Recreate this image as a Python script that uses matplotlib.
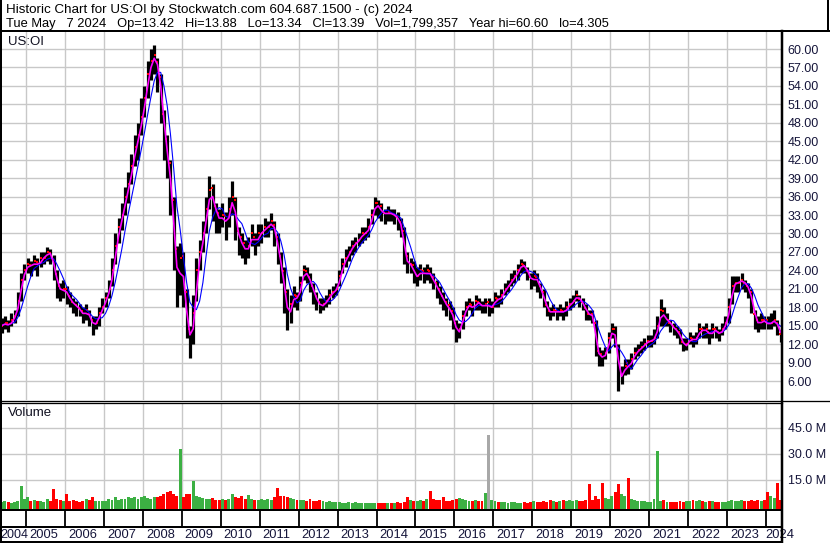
import numpy as np
import pandas as pd
import matplotlib
matplotlib.use("Agg")
import matplotlib.pyplot as plt
from matplotlib.transforms import offset_copy

# ---------------- data (monthly) ----------------
first_month = "2004-05"
last_month = "2024-05"

close = [
    15.0, 15.5, 14.8, 16.0, 16.5, 19.0, 22.5, 24.0,                      # 2004 May-Dec
    25.0, 24.5, 25.5, 24.5, 26.0, 26.0, 27.0, 26.5, 24.0, 21.5, 20.5, 21.0,  # 2005
    20.0, 19.0, 18.5, 18.0, 17.5, 16.5, 17.5, 16.0, 15.0, 15.5, 17.0, 18.0,  # 2006
    19.5, 21.0, 24.0, 28.0, 31.0, 33.0, 36.0, 38.0, 41.0, 44.0, 46.0, 49.0,  # 2007
    52.0, 56.0, 58.0, 59.0, 56.0, 52.0, 45.0, 42.0, 36.0, 28.0, 21.0, 26.0,  # 2008
    20.0, 15.0, 12.0, 17.0, 24.0, 27.0, 30.0, 34.0, 37.0, 35.0, 33.0, 32.0,  # 2009
    33.0, 31.0, 34.0, 36.0, 31.0, 29.0, 28.0, 27.0, 28.0, 30.0, 28.0, 30.0,  # 2010
    30.0, 31.0, 31.0, 32.0, 30.0, 27.0, 24.0, 20.0, 16.0, 18.5, 20.0, 19.0,  # 2011
    22.0, 24.0, 23.0, 22.0, 20.0, 19.0, 18.0, 18.5, 19.0, 20.0, 20.5, 21.0,  # 2012
    23.0, 25.0, 26.0, 27.0, 28.0, 28.5, 29.0, 30.0, 30.0, 31.0, 33.0, 35.0,  # 2013
    34.0, 33.5, 33.0, 33.5, 33.0, 33.0, 32.0, 31.0, 26.0, 25.0, 25.0, 23.0,  # 2014
    23.0, 24.0, 23.0, 24.0, 23.0, 22.0, 21.0, 20.0, 19.0, 18.0, 17.5, 16.0,  # 2015
    13.5, 14.5, 16.5, 18.0, 18.5, 17.5, 19.0, 18.5, 18.0, 18.5, 18.0, 18.0,  # 2016
    19.5, 19.0, 20.0, 21.0, 21.5, 22.5, 23.0, 24.0, 25.0, 24.5, 23.5, 22.0,  # 2017
    23.0, 22.0, 20.5, 19.0, 17.5, 17.0, 17.5, 17.0, 17.5, 17.0, 18.0, 18.5,  # 2018
    19.0, 20.0, 19.0, 18.5, 17.0, 16.8, 16.5, 11.0, 10.0, 9.8, 10.5, 13.0,   # 2019
    14.5, 12.5, 6.5, 7.0, 8.5, 8.2, 9.5, 10.5, 11.0, 11.5, 12.0, 12.5,       # 2020
    12.5, 13.0, 15.0, 17.5, 16.0, 16.0, 15.0, 14.5, 14.0, 13.0, 11.5, 12.0,  # 2021
    13.0, 12.5, 13.0, 14.5, 14.0, 14.5, 13.0, 14.5, 14.0, 13.5, 14.5, 15.5,  # 2022
    18.0, 21.5, 22.0, 22.0, 22.5, 21.5, 21.0, 18.5, 16.0, 15.0, 16.0, 15.5,  # 2023
    15.2, 15.5, 16.0, 14.5, 13.4,                                            # 2024 Jan-May
]
high = [
    16.2, 16.5, 16.0, 17.0, 17.5, 20.5, 23.5, 25.0,
    26.0, 25.5, 26.5, 26.0, 27.0, 27.0, 27.8, 27.5, 26.5, 24.0, 22.0, 22.5,
    21.5, 20.5, 19.5, 19.0, 18.5, 18.0, 18.5, 17.5, 16.5, 16.5, 18.0, 19.5,
    20.5, 22.5, 26.0, 30.0, 32.5, 35.0, 37.5, 40.0, 43.0, 46.0, 48.0, 52.0,
    54.0, 58.0, 60.0, 60.6, 58.5, 56.0, 50.0, 46.0, 42.0, 36.0, 28.0, 28.5,
    27.0, 21.0, 15.0, 20.0, 26.0, 29.0, 32.0, 36.0, 39.3, 38.0, 35.0, 34.0,
    35.0, 33.5, 36.0, 38.5, 36.0, 31.0, 30.0, 29.0, 29.5, 31.5, 30.0, 31.5,
    31.5, 32.5, 32.0, 33.3, 32.0, 30.0, 27.0, 24.5, 21.0, 20.0, 21.5, 20.5,
    23.0, 24.8, 24.5, 23.5, 22.0, 20.5, 19.5, 19.5, 20.0, 21.0, 21.5, 22.0,
    24.0, 26.0, 27.5, 28.0, 29.0, 29.5, 30.0, 31.0, 31.0, 32.5, 34.0, 36.0,
    35.5, 35.0, 34.0, 34.5, 34.0, 34.0, 33.5, 32.5, 31.0, 27.0, 26.0, 25.5,
    24.5, 25.0, 24.5, 25.0, 24.5, 23.5, 22.5, 21.5, 20.5, 19.5, 19.0, 18.0,
    16.0, 15.5, 17.5, 19.0, 19.5, 19.0, 20.0, 19.5, 19.0, 19.5, 19.5, 19.0,
    20.5, 20.0, 21.0, 22.0, 22.5, 23.5, 24.0, 25.0, 25.8, 25.5, 24.5, 23.5,
    24.0, 23.5, 22.0, 21.0, 19.0, 18.0, 18.5, 18.0, 18.5, 18.0, 19.0, 19.5,
    20.0, 20.8, 20.0, 19.5, 18.5, 17.5, 17.5, 16.0, 11.5, 11.0, 11.5, 14.0,
    15.5, 15.0, 12.0, 8.5, 9.5, 9.5, 10.5, 11.5, 12.0, 12.5, 13.0, 13.5,
    13.5, 14.5, 16.5, 19.3, 18.0, 17.0, 16.0, 15.5, 15.0, 14.5, 13.0, 13.0,
    14.0, 13.5, 14.0, 15.5, 15.0, 15.5, 14.5, 15.5, 15.0, 14.5, 15.5, 16.5,
    19.5, 23.0, 23.0, 23.0, 23.6, 22.5, 22.0, 21.0, 17.5, 16.5, 17.0, 16.5,
    16.5, 17.0, 17.5, 16.0, 14.3,
]
low = [
    13.8, 14.5, 14.0, 15.0, 15.5, 16.5, 19.0, 22.5,
    23.5, 23.0, 24.0, 23.0, 24.5, 25.0, 25.5, 25.0, 22.5, 19.5, 19.0, 19.5,
    18.5, 18.0, 17.0, 16.5, 16.5, 15.5, 16.0, 15.0, 13.5, 14.5, 15.0, 17.0,
    18.0, 19.5, 21.5, 25.0, 28.5, 30.5, 33.0, 35.0, 38.0, 41.0, 42.0, 46.0,
    49.0, 52.0, 55.0, 56.0, 53.0, 48.0, 42.0, 39.0, 33.0, 24.0, 18.0, 20.0,
    18.0, 13.0, 9.8, 12.0, 19.0, 24.0, 27.0, 30.0, 34.0, 32.0, 30.0, 30.0,
    31.0, 29.0, 31.0, 33.0, 29.0, 26.5, 26.0, 25.0, 26.0, 28.0, 26.5, 28.0,
    28.5, 29.5, 29.5, 30.5, 28.0, 25.0, 22.0, 17.0, 14.3, 15.5, 18.0, 17.5,
    19.0, 22.5, 22.0, 20.5, 18.5, 17.5, 17.0, 17.5, 18.0, 18.5, 19.5, 20.0,
    21.5, 23.5, 24.5, 25.5, 26.5, 27.0, 28.0, 28.5, 29.0, 29.5, 31.5, 33.0,
    32.5, 32.0, 31.5, 32.0, 32.0, 31.5, 30.5, 29.5, 25.0, 23.5, 23.5, 22.0,
    21.5, 22.5, 22.0, 22.5, 22.0, 21.0, 19.5, 18.5, 17.5, 16.5, 16.0, 14.5,
    12.3, 13.0, 14.5, 16.5, 17.5, 16.5, 17.5, 17.5, 17.0, 17.0, 16.5, 17.0,
    18.0, 18.0, 18.5, 20.0, 20.5, 21.5, 22.0, 22.5, 23.5, 23.5, 22.5, 21.0,
    21.5, 20.5, 19.5, 18.0, 16.5, 16.0, 16.5, 16.0, 16.5, 16.0, 16.5, 17.5,
    18.0, 19.0, 18.0, 17.5, 16.0, 16.0, 15.5, 10.0, 8.5, 8.5, 9.5, 10.5,
    13.0, 11.5, 4.3, 5.5, 7.0, 7.2, 8.0, 9.5, 10.0, 10.5, 11.0, 11.5,
    11.5, 12.0, 13.0, 15.0, 15.0, 15.0, 14.0, 13.5, 13.0, 12.0, 10.8, 11.0,
    12.0, 11.5, 12.0, 13.0, 13.0, 13.0, 12.0, 13.0, 13.0, 12.5, 13.5, 14.5,
    15.5, 18.5, 20.5, 20.5, 21.0, 20.5, 19.5, 17.0, 14.5, 14.0, 14.5, 14.5,
    14.5, 14.5, 15.0, 13.5, 12.4,
]
volume_m = [
    2.5, 3.0, 2.5, 2.0, 2.5, 3.0, 11.5, 4.0,
    5.0, 3.0, 3.5, 3.0, 3.0, 2.5, 4.0, 3.0, 9.8, 4.0, 3.5, 3.0,
    6.9, 3.0, 3.5, 3.0, 2.5, 3.0, 4.0, 3.5, 5.0, 3.0, 3.0, 3.0,
    3.0, 4.0, 3.5, 5.0, 3.5, 4.0, 4.0, 5.0, 4.5, 5.0, 4.0, 5.0,
    5.8, 4.5, 4.0, 5.0, 5.0, 6.0, 7.0, 8.0, 8.5, 7.0, 6.0, 33.0,
    5.0, 7.0, 7.0, 14.4, 6.0, 5.0, 4.5, 4.0, 4.0, 4.5, 3.5, 3.5,
    4.0, 3.5, 4.0, 7.0, 5.0, 4.5, 6.0, 4.0, 6.5, 4.0, 3.5, 3.5,
    4.0, 3.5, 4.0, 3.5, 5.0, 10.4, 5.5, 6.0, 5.0, 4.5, 4.0, 3.5,
    3.5, 3.5, 3.0, 4.0, 3.0, 3.0, 3.5, 3.0, 2.5, 3.0, 2.5, 2.5,
    2.5, 2.0, 2.0, 2.5, 2.0, 2.5, 2.0, 1.8, 1.8, 2.0, 1.8, 1.8,
    2.0, 1.8, 1.8, 2.0, 1.8, 2.0, 2.5, 2.0, 2.5, 5.4, 3.5, 3.0,
    3.0, 3.5, 3.0, 4.0, 8.6, 4.0, 3.5, 3.5, 5.2, 3.0, 3.0, 3.5,
    4.0, 4.5, 4.0, 3.5, 3.0, 3.0, 3.5, 3.0, 3.0, 7.5, 41.0, 3.5,
    3.0, 2.5, 2.5, 2.5, 2.0, 2.5, 2.5, 2.0, 2.0, 2.5, 2.0, 2.5,
    3.0, 2.5, 2.5, 3.0, 2.5, 3.5, 3.0, 2.5, 3.0, 3.5, 3.0, 3.5,
    3.0, 3.5, 3.0, 3.0, 3.5, 12.7, 3.5, 5.5, 4.0, 13.0, 4.5, 4.0,
    6.0, 8.0, 12.7, 7.0, 6.0, 16.0, 4.0, 3.5, 3.0, 3.0, 3.0, 2.5,
    2.5, 4.0, 32.0, 3.0, 3.5, 2.5, 2.5, 2.5, 2.5, 3.0, 2.5, 3.0,
    3.0, 3.5, 3.0, 3.5, 3.0, 2.5, 3.0, 3.0, 2.5, 2.5, 2.5, 2.5,
    3.0, 3.5, 3.0, 3.0, 3.5, 3.0, 3.0, 3.5, 3.0, 3.5, 3.0, 3.5,
    8.0, 6.0, 4.5, 13.0, 3.5,
]
gray_volume_months = ["2016-11"]

price_ticks = [6, 9, 12, 15, 18, 21, 24, 27, 30, 33, 36, 39, 42, 45, 48, 51, 54, 57, 60]
volume_ticks = [15, 30, 45]
years = list(range(2004, 2025))

header1 = "Historic Chart for US:OI by Stockwatch.com 604.687.1500 - (c) 2024"
header2 = ("Tue May   7 2024   Op=13.42   Hi=13.88   Lo=13.34   Cl=13.39   "
           "Vol=1,799,357   Year hi=60.60   lo=4.305")

# ---------------- derived ----------------
months = pd.period_range(first_month, last_month, freq="M")
t = np.asarray(months.year + (months.month - 0.5) / 12.0, dtype=float)
s_close = pd.Series(close)
ma_fast = s_close.rolling(2, min_periods=1).mean()
ma_slow = s_close.rolling(5, min_periods=1).mean()
up = s_close.diff().fillna(1) >= 0
vcol = np.where(up, "#3cb043", "#ff0000").astype(object)
for gm in gray_volume_months:
    vcol[list(months.strftime("%Y-%m")).index(gm)] = "#a8a8a8"

# ---------------- figure ----------------
W, H = 830, 543
plt.rcParams["font.family"] = ["Liberation Sans", "DejaVu Sans"]
fig = plt.figure(figsize=(W / 100, H / 100), dpi=100)
fig.patch.set_facecolor("white")

px_per_year = 740 / 19.0
x0 = 2005 - 26 / px_per_year
x1 = 2024 + 16 / px_per_year

def fax(l, top, r, bot):
    return fig.add_axes([l / W, 1 - bot / H, (r - l) / W, (bot - top) / H])

grid_c = "#c8c8c8"
label_c = "#15153a"

# price axes
axp = fax(0, 31, 782, 400)
axp.set_xlim(x0, x1)
axp.set_ylim(2.91, 62.93)
axp.set_xticks(range(2005, 2025))
axp.set_yticks(price_ticks)
axp.grid(True, color=grid_c, lw=1.0)
axp.set_axisbelow(True)
axp.tick_params(axis="x", length=0, labelbottom=False)
axp.yaxis.tick_right()
axp.tick_params(axis="y", length=0, pad=4, labelsize=9, labelcolor=label_c)
axp.set_yticklabels([f"{v:.2f}" for v in price_ticks])
for sp in axp.spines.values():
    sp.set_visible(False)

axp.vlines(t, low, high, color="black", lw=2.3, zorder=2)
axp.scatter(t[up.values] + 0.02, np.array(close)[up.values], marker="s", s=2.4,
            color="#ff0000", lw=0, zorder=3)
axp.scatter(t[~up.values] - 0.02, np.array(high)[~up.values] - 0.6, marker="s", s=2.4,
            color="#ff0000", lw=0, zorder=3)
axp.plot(t, ma_slow, color="#0000ff", lw=0.8, zorder=4)
axp.plot(t, ma_fast, color="#ff00ff", lw=1.2, zorder=5)
axp.text(8 / 782, 1 - 11 / 369, "US:OI", transform=axp.transAxes, fontsize=9.5,
         va="center", ha="left", color="#101020")

# volume axes
axv = fax(0, 403, 782, 510)
axv.set_xlim(x0, x1)
axv.set_ylim(-2.3, 59.4)
axv.set_xticks(range(2005, 2025))
axv.set_yticks(volume_ticks)
axv.grid(True, color=grid_c, lw=1.0)
axv.set_axisbelow(True)
axv.tick_params(axis="x", length=0, labelbottom=False)
axv.yaxis.tick_right()
axv.tick_params(axis="y", length=0, pad=4, labelsize=9, labelcolor=label_c)
axv.set_yticklabels([f"{v:.1f} M" for v in volume_ticks])
for sp in axv.spines.values():
    sp.set_visible(False)
axv.bar(t, np.array(volume_m) + 2.3, bottom=-2.3, width=0.9 / 12, color=list(vcol),
        lw=0, zorder=2)
axv.text(8 / 782, 1 - 10 / 107, "Volume", transform=axv.transAxes, fontsize=9.5,
         va="center", ha="left", color="#101020")

# year label strip
axy = fax(0, 510, 782, 542)
axy.set_xlim(x0, x1)
axy.set_ylim(0, 32)
axy.axis("off")
axy.vlines(range(2005, 2025), 15, 32, color="black", lw=1.3)
for y in years:
    if y == years[0]:
        axy.text(0.5 / 782, 7.5, str(y), transform=axy.get_yaxis_transform(),
                 ha="left", va="center", fontsize=9.0, color=label_c)
    elif y == years[-1]:
        tr = offset_copy(axy.transData, fig=fig, x=-1, y=0, units="dots")
        axy.text(y, 7.5, str(y), transform=tr, ha="left", va="center",
                 fontsize=9.3, color=label_c, clip_on=False)
    else:
        tr = offset_copy(axy.transData, fig=fig, x=3, y=0, units="dots")
        axy.text(y, 7.5, str(y), transform=tr, ha="left", va="center",
                 fontsize=9.3, color=label_c)

# frame overlay in pixel coordinates
ov = fig.add_axes([0, 0, 1, 1], zorder=10)
ov.set_xlim(0, W)
ov.set_ylim(H, 0)
ov.axis("off")
ov.patch.set_alpha(0)
k = 0.72  # px -> pt
ov.plot([0, W], [30.5, 30.5], color="black", lw=2 * k)
ov.plot([1, 1], [0, H], color="black", lw=2 * k)
ov.plot([W - 2, W - 2], [0, 31], color="black", lw=2 * k)
ov.plot([781.5, 781.5], [31, H], color="black", lw=2.5 * k)
ov.plot([0, W], [400.5, 400.5], color="black", lw=1.3 * k)
ov.plot([0, 782], [403, 403], color="black", lw=1.3 * k)
ov.plot([0, 782], [510, 510], color="black", lw=2 * k)
ov.plot([0, 782], [526.5, 526.5], color="black", lw=2 * k)
ov.plot([0, 782], [541.5, 541.5], color="black", lw=2 * k)
ov.text(6, 13.3, header1, fontsize=9.6, va="baseline", ha="left", color="black")
ov.text(6, 27.3, header2, fontsize=9.25, va="baseline", ha="left", color="black")

fig.savefig("out.png", dpi=100)
